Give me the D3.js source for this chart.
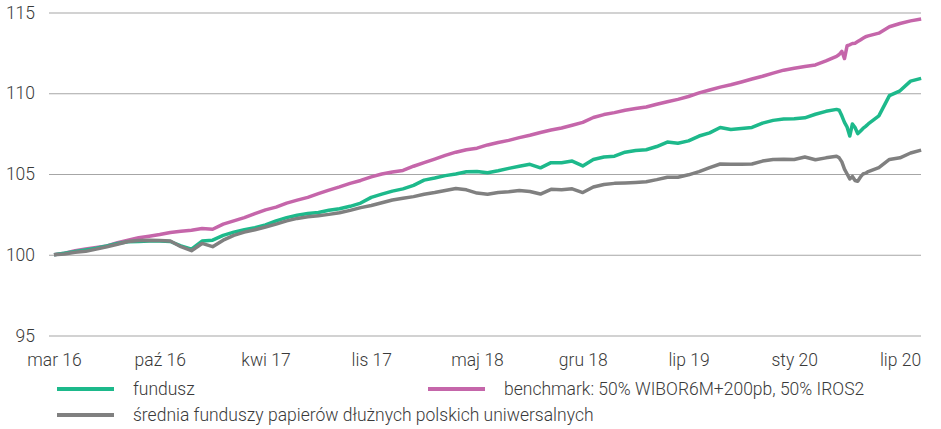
<!DOCTYPE html>
<html>
<head>
<meta charset="utf-8">
<title>fundusz vs benchmark</title>
<style>
  body { margin: 0; background: #fff; }
  text { font-family: Roboto, "Liberation Sans", sans-serif; fill: #3a3a3a; }
</style>
</head>
<body>
<div id="chart"></div>
<script src="https://cdn.jsdelivr.net/npm/d3@7/dist/d3.min.js"></script>
<script>
// period index (labels every 10 periods, finer steps around the March 2020 drop)
var t = d3.range(0, 75).concat([74.25, 74.5, 74.75, 75, 75.25, 75.5, 75.75, 76, 76.25, 76.5, 76.75, 77, 78, 79, 80, 81, 82]);
t = t.filter((d, i) => t.indexOf(d) === i);

var tickPos = [0, 10, 20, 30, 40, 50, 60, 70, 80];
var tickLabels = ['mar 16', 'paź 16', 'kwi 17', 'lis 17', 'maj 18', 'gru 18', 'lip 19', 'sty 20', 'lip 20'];
var yTicks = [95, 100, 105, 110, 115];

var fundusz = [
  100.0, 100.1, 100.2, 100.3, 100.4, 100.55, 100.7, 100.8, 100.82, 100.85,
  100.85, 100.82, 100.55, 100.35, 100.85, 100.9, 101.2, 101.4, 101.55, 101.68,
  101.85, 102.1, 102.3, 102.45, 102.55, 102.62, 102.75, 102.85, 103.0, 103.2,
  103.55, 103.75, 103.94, 104.08, 104.3, 104.62, 104.75, 104.9, 105.0, 105.14,
  105.15, 105.08, 105.2, 105.35, 105.48, 105.6, 105.38, 105.7, 105.7, 105.8,
  105.5, 105.9, 106.05, 106.1, 106.35, 106.45, 106.5, 106.7, 106.98, 106.9,
  107.05, 107.35, 107.55, 107.88, 107.75, 107.82, 107.88, 108.15, 108.32, 108.4,
  108.42, 108.48, 108.7, 108.88, 109.0,
  108.95, 108.6, 108.2, 107.9, 107.35, 108.1, 107.88, 107.5, 107.65, 107.82, 107.95, 108.1,
  108.6, 109.85, 110.15, 110.75, 110.92
];

var benchmark = [
  100.0, 100.1, 100.25, 100.35, 100.45, 100.55, 100.75, 100.9, 101.05, 101.15,
  101.25, 101.38, 101.45, 101.52, 101.62, 101.58, 101.9, 102.1, 102.3, 102.55,
  102.78, 102.95, 103.2, 103.38, 103.55, 103.78, 104.0, 104.2, 104.42, 104.6,
  104.82, 105.0, 105.12, 105.22, 105.48, 105.7, 105.92, 106.15, 106.35, 106.5,
  106.6, 106.8, 106.95, 107.08, 107.25, 107.4, 107.57, 107.72, 107.85, 108.02,
  108.2, 108.5, 108.68, 108.8, 108.95, 109.05, 109.15, 109.32, 109.47, 109.62,
  109.8, 110.02, 110.2, 110.38, 110.53, 110.7, 110.88, 111.05, 111.25, 111.43,
  111.55, 111.65, 111.75, 112.0, 112.28,
  112.4, 112.6, 112.15, 112.95, 113.0, 113.08, 113.1, 113.2, 113.3, 113.4, 113.5, 113.55,
  113.72, 114.12, 114.32, 114.48, 114.6
];

var srednia = [
  100.0, 100.05, 100.15, 100.22, 100.35, 100.5, 100.65, 100.82, 100.88, 100.9,
  100.88, 100.85, 100.5, 100.25, 100.7, 100.5, 100.9, 101.2, 101.4, 101.55,
  101.72, 101.9, 102.1, 102.25, 102.35, 102.42, 102.5, 102.6, 102.75, 102.92,
  103.05, 103.22, 103.39, 103.5, 103.6, 103.75, 103.85, 103.98, 104.1, 104.02,
  103.82, 103.75, 103.85, 103.9, 103.98, 103.92, 103.76, 104.05, 104.02, 104.08,
  103.85, 104.2, 104.35, 104.42, 104.45, 104.48, 104.52, 104.65, 104.8, 104.8,
  104.95, 105.15, 105.4, 105.62, 105.6, 105.6, 105.62, 105.8, 105.9, 105.92,
  105.9, 106.05, 105.88, 106.0, 106.1,
  106.0, 105.75, 105.3, 105.0, 104.7, 104.85, 104.6, 104.55, 104.8, 105.0, 105.05, 105.15,
  105.4, 105.9, 106.0, 106.3, 106.48
];

var seriesNames = ['fundusz', 'benchmark: 50% WIBOR6M+200pb, 50% IROS2', 'średnia funduszy papierów dłużnych polskich uniwersalnych'];
var colors = ['#1db98b', '#c566aa', '#808080'];

var width = 941, height = 429;

var svg = d3.select('#chart')
  .append('svg')
  .attr('width', width)
  .attr('height', height);

var xScale = d3.scaleLinear()
  .domain([0, 80])
  .range([54, 900]);

var yScale = d3.scaleLinear()
  .domain([95, 115])
  .range([335.5, 12.5]);

// gridlines + y labels
var yAxis = d3.axisLeft(yScale)
  .tickValues(yTicks)
  .tickSize(-(921 - 49))
  .tickPadding(14)
  .tickFormat(d3.format('d'));

var gy = svg.append('g')
  .attr('transform', 'translate(49,0)')
  .call(yAxis);
gy.select('.domain').remove();
gy.selectAll('line').attr('stroke', '#a6a6a6').attr('stroke-width', 1.2);
gy.selectAll('text').style('font-size', '17.5px').style('font-weight', 300).attr('fill', '#3a3a3a');

// x labels
var xAxis = d3.axisBottom(xScale)
  .tickValues(tickPos)
  .tickSize(0)
  .tickPadding(0)
  .tickFormat((d, i) => tickLabels[i]);

var gx = svg.append('g')
  .attr('transform', 'translate(0,354)')
  .call(xAxis);
gx.select('.domain').remove();
gx.selectAll('text').style('font-size', '17.5px').style('font-weight', 300).attr('fill', '#3a3a3a');

var line = d3.line()
  .x((d, i) => xScale(t[i]))
  .y(d => yScale(d));

// draw order: benchmark, fundusz, srednia on top
[[benchmark, 1], [fundusz, 0], [srednia, 2]].forEach(s => {
  svg.append('path')
    .attr('d', line(s[0]))
    .attr('fill', 'none')
    .attr('stroke', colors[s[1]])
    .attr('stroke-width', 3.5)
    .attr('stroke-linejoin', 'round');
});

// legend
var legendPos = [[57, 389], [428, 389], [57, 415]];
seriesNames.forEach((name, i) => {
  var g = svg.append('g').attr('transform', 'translate(' + legendPos[i][0] + ',' + legendPos[i][1] + ')');
  g.append('line')
    .attr('x1', 0).attr('x2', 57)
    .attr('y1', 0).attr('y2', 0)
    .attr('stroke', colors[i])
    .attr('stroke-width', 4);
  g.append('text')
    .attr('x', 76)
    .attr('y', 6)
    .style('font-size', '17.5px')
    .style('font-weight', 300)
    .text(name);
});
</script>
</body>
</html>
